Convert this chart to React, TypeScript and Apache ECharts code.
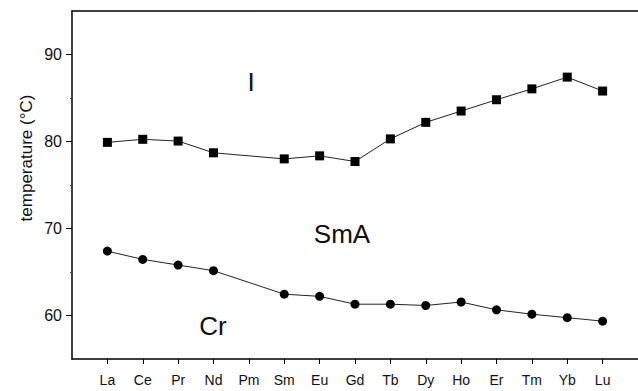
import React, { useEffect, useRef } from "react";
import * as echarts from "echarts";

const elements = ["La", "Ce", "Pr", "Nd", "Pm", "Sm", "Eu", "Gd", "Tb", "Dy", "Ho", "Er", "Tm", "Yb", "Lu"];
// I -> SmA transition (squares)
const clearingTemps = [79.9, 80.25, 80.05, 78.7, null, 78.0, 78.35, 77.7, 80.3, 82.2, 83.5, 84.8, 86.05, 87.4, 85.8];
// Cr -> SmA transition (circles)
const meltingTemps = [67.4, 66.45, 65.8, 65.15, null, 62.45, 62.2, 61.3, 61.3, 61.15, 61.55, 60.65, 60.15, 59.75, 59.35];
const yTicks = [60, 70, 80, 90];
const yMinorTicks = [65, 75, 85];
const phaseLabels = ["I", "SmA", "Cr"];

const FONT = "'Liberation Sans', Arial, Helvetica, sans-serif";

export default function App() {
  const ref = useRef<HTMLDivElement>(null);
  useEffect(() => {
    if (!ref.current) return;
    const chart = echarts.init(ref.current, null, { renderer: "svg" });
    const toPoints = (arr: (number | null)[]) =>
      arr.map((v, i) => [i + 1, v === null ? "-" : v]);
    const xTickValues = elements.map((_, i) => i + 1);
    chart.setOption({
      animation: false,
      backgroundColor: "#ffffff",
      grid: { left: 72, top: 11, right: 0, bottom: 32, containLabel: false },
      xAxis: [
        {
          type: "value",
          min: 0,
          max: elements.length + 1,
          interval: 1,
          position: "bottom",
          axisLine: { show: true, lineStyle: { color: "#000", width: 1.5 } },
          axisTick: {
            show: true,
            inside: false,
            length: 5,
            customValues: xTickValues,
            lineStyle: { color: "#000", width: 1 },
          },
          splitLine: { show: false },
          axisLabel: {
            margin: 14,
            fontSize: 14,
            fontFamily: FONT,
            color: "#111",
            customValues: xTickValues,
            formatter: (v: number) => elements[v - 1] ?? "",
          },
        },
        {
          type: "value",
          min: 0,
          max: elements.length + 1,
          position: "top",
          axisLine: { show: true, onZero: false, lineStyle: { color: "#000", width: 1.5 } },
          axisTick: { show: false },
          axisLabel: { show: false },
          splitLine: { show: false },
        },
      ],
      yAxis: [
        {
          type: "value",
          min: 55,
          max: 95,
          interval: 5,
          position: "left",
          axisLine: { show: true, lineStyle: { color: "#000", width: 1.5 } },
          axisTick: {
            show: true,
            length: 6,
            customValues: yTicks,
            lineStyle: { color: "#000", width: 1 },
          },
          splitLine: { show: false },
          axisLabel: {
            margin: 10,
            fontSize: 16,
            fontFamily: FONT,
            color: "#111",
            customValues: yTicks,
            formatter: (v: number) => String(v),
          },
        },
        {
          type: "value",
          min: 55,
          max: 95,
          interval: 5,
          position: "left",
          offset: 0,
          axisLine: { show: false },
          axisTick: {
            show: true,
            length: 2,
            customValues: yMinorTicks,
            lineStyle: { color: "#444", width: 1 },
          },
          axisLabel: { show: false },
          splitLine: { show: false },
        },
      ],
      graphic: [
        {
          type: "text",
          x: 26,
          y: 158,
          rotation: Math.PI / 2,
          style: {
            text: "temperature (°C)",
            fontSize: 17,
            fontFamily: FONT,
            fill: "#111",
            align: "center",
            verticalAlign: "middle",
          },
        },
        {
          type: "text",
          x: 251,
          y: 82,
          style: { text: phaseLabels[0], fontSize: 26, fontFamily: FONT, fill: "#111", align: "center", verticalAlign: "middle" },
        },
        {
          type: "text",
          x: 342,
          y: 234,
          style: { text: phaseLabels[1], fontSize: 26, fontFamily: FONT, fill: "#111", align: "center", verticalAlign: "middle" },
        },
        {
          type: "text",
          x: 213,
          y: 326,
          style: { text: phaseLabels[2], fontSize: 26, fontFamily: FONT, fill: "#111", align: "center", verticalAlign: "middle" },
        },
      ],
      series: [
        {
          type: "line",
          data: toPoints(clearingTemps),
          connectNulls: true,
          symbol: "rect",
          symbolSize: 9,
          itemStyle: { color: "#000" },
          lineStyle: { color: "#222", width: 1 },
        },
        {
          type: "line",
          data: toPoints(meltingTemps),
          connectNulls: true,
          symbol: "circle",
          symbolSize: 9,
          itemStyle: { color: "#000" },
          lineStyle: { color: "#222", width: 1 },
        },
      ],
    });
    return () => chart.dispose();
  }, []);
  return (
    <div style={{ position: "absolute", left: 0, top: 0, width: 638, height: 391, overflow: "hidden", background: "#fff" }}>
      <div ref={ref} style={{ width: 638, height: 391 }} />
    </div>
  );
}
